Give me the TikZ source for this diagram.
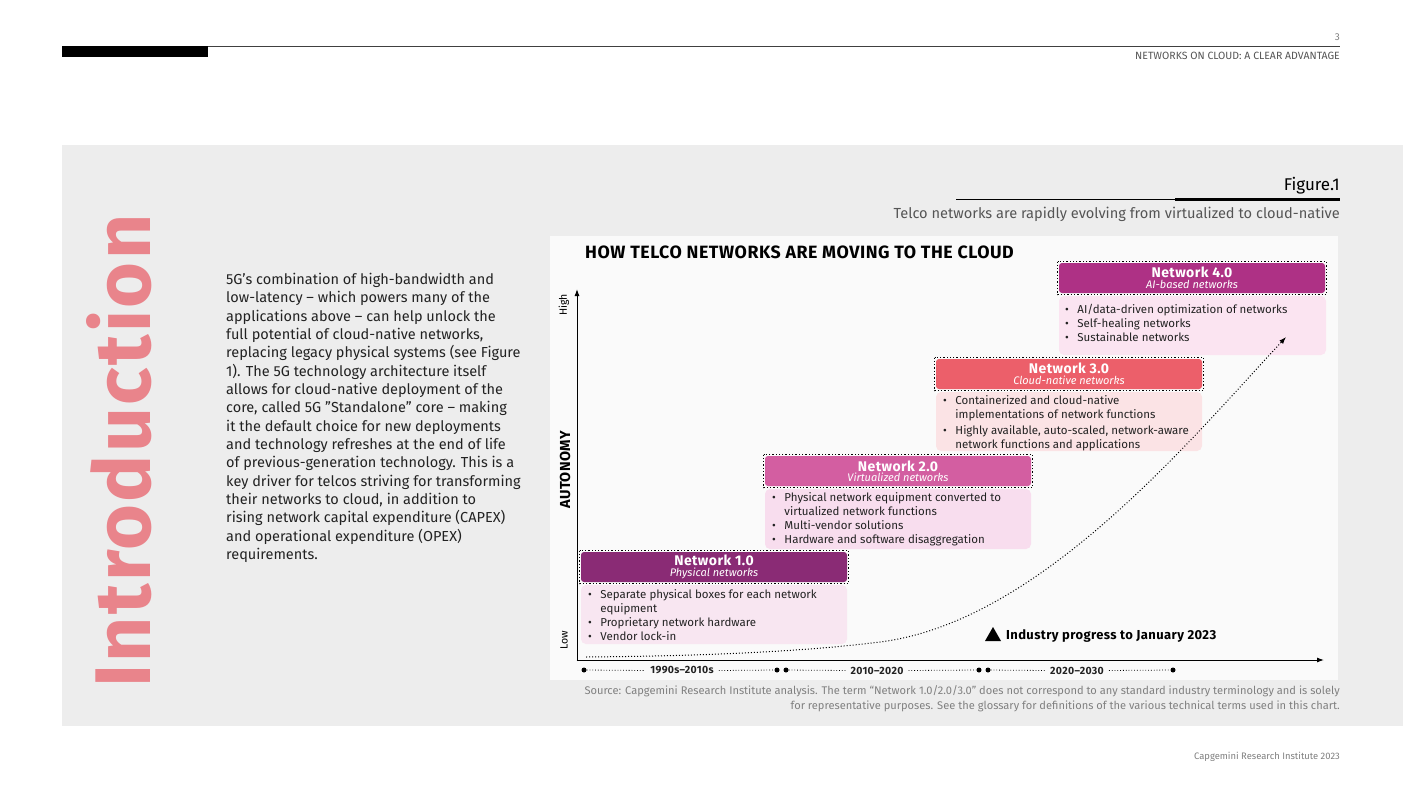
\documentclass[tikz,border=0pt]{standalone}
\usepackage{fontspec}
\setmainfont{Fira Sans}[BoldFeatures={LetterSpace=3}]
\usetikzlibrary{arrows.meta}
\definecolor{panelgray}{HTML}{EDEDED}
\definecolor{chartbg}{HTML}{FAFAFA}
\definecolor{intropink}{HTML}{E9848B}
\definecolor{hOne}{HTML}{8A2B75}
\definecolor{bOne}{HTML}{F8E6F1}
\definecolor{hTwo}{HTML}{D35EA1}
\definecolor{bTwo}{HTML}{F8DDEE}
\definecolor{hThree}{HTML}{EC5F6A}
\definecolor{bThree}{HTML}{FBE3E5}
\definecolor{hFour}{HTML}{AE3185}
\definecolor{bFour}{HTML}{FBE4F1}
\definecolor{txtgray}{HTML}{555555}
\definecolor{lightgray}{HTML}{808080}
\definecolor{bodytext}{HTML}{222222}
\newcommand{\fsz}[2]{\fontsize{#1}{#2}\selectfont}
\tikzset{
  hdrtext/.style={text=white, align=center, inner sep=0pt},
  bodylist/.style={anchor=north west, inner sep=0pt, align=left, text=bodytext, font=\fsz{11.5}{14}},
  hdrbox/.style={rounded corners=3pt},
  dotframe/.style={draw=black, dotted, line width=1.3pt},
  tdot/.style={circle, fill=black, inner sep=0pt, minimum size=5pt},
  tlabel/.style={font=\bfseries\fsz{10.5}{12}, inner sep=0pt, text=bodytext},
  tline/.style={dotted, line width=0.8pt},
  axisarrow/.style={line width=1pt, -{Latex[length=7pt,width=5pt]}},
}
\newcommand{\blist}[1]{\begin{tabular}{@{}l@{\hspace{8.5pt}}l@{}}#1\end{tabular}}
\newcommand{\hdr}[2]{{\bfseries\fsz{14}{14}#1}\\[-1.5pt]{\itshape\fsz{11}{11}#2}}
\begin{document}
\begin{tikzpicture}[x=1pt,y=-1pt]
\useasboundingbox (0,0) rectangle (1403,789);
\fill[white] (0,0) rectangle (1403,789);
% header
\draw[line width=0.8pt, black!75] (62,46) -- (1340,46);
\fill[black] (62,46) rectangle (208,57);
\node[anchor=east, inner sep=0pt, text=lightgray, font=\fsz{10}{12}] (pagenum) at (1340,37) {3};
\node[anchor=east, inner sep=0pt, text=txtgray, font=\fsz{10.5}{12}] (runhead) at (1340,55.5) {NETWORKS ON CLOUD: A CLEAR ADVANTAGE};
% panel
\fill[panelgray] (62,145) rectangle (1403,726);
% Introduction
\node[rotate=90, anchor=base, inner sep=0pt, text=intropink] (intro) at (150.5,451) {\resizebox{473pt}{64pt}{\bfseries Introduction}};
% paragraph
\node[anchor=north west, inner sep=0pt, align=left, text=bodytext, font=\fsz{14.5}{18.33}] (para) at (226,273) {%
5G’s combination of high-bandwidth and\\
low-latency – which powers many of the\\
applications above – can help unlock the\\
full potential of cloud-native networks,\\
replacing legacy physical systems (see Figure\\
1). The 5G technology architecture itself\\
allows for cloud-native deployment of the\\
core, called 5G "Standalone" core – making\\
it the default choice for new deployments\\
and technology refreshes at the end of life\\
of previous-generation technology. This is a\\
key driver for telcos striving for transforming\\
their networks to cloud, in addition to\\
rising network capital expenditure (CAPEX)\\
and operational expenditure (OPEX)\\
requirements.};
% Figure title
\node[anchor=east, inner sep=0pt, text=black, font=\fsz{17}{19}] (figlab) at (1340,186) {Figure.1};
\draw[line width=1pt] (956,199) -- (1340,199);
\fill[black] (1175,197.5) rectangle (1340,200.5);
\node[anchor=east, inner sep=0pt, text=txtgray, font=\fsz{14.6}{16}] (figsub) at (1340,214) {Telco networks are rapidly evolving from virtualized to cloud-native};
% chart panel
\fill[chartbg] (550,236) rectangle (1338,680);
\node[anchor=west, inner sep=0pt, font=\bfseries\fsz{17.8}{20}] (ctitle) at (585,252) {HOW TELCO NETWORKS ARE MOVING TO THE CLOUD};
% axes
\coordinate (ytop) at (577,289);
\coordinate (xend) at (1324,660);
\draw[axisarrow] (577,661) -- (ytop);
\draw[axisarrow] (576.5,660) -- (xend);
\node[rotate=90, inner sep=0pt, font=\fsz{10.5}{12}] (high) at (564,305) {High};
\node[rotate=90, inner sep=0pt, font=\fsz{10.5}{12}] (low) at (564,640) {Low};
\node[rotate=90, inner sep=0pt, font=\bfseries\fsz{14.5}{16}] (autonomy) at (565,470) {AUTONOMY};
% timeline
\node[tdot] (d1) at (584,670) {};
\node[tlabel] (t1) at (682,670.5) {1990s–2010s};
\node[tdot] (d2) at (777,670) {};
\node[tdot] (d3) at (786,670) {};
\node[tlabel] (t2) at (877,670.5) {2010–2020};
\node[tdot] (d4) at (979,670) {};
\node[tdot] (d5) at (988,670) {};
\node[tlabel] (t3) at (1077,670.5) {2020–2030};
\node[tdot] (d6) at (1173,670) {};
\draw[tline] (d1) -- ([xshift=-5pt]t1.west);
\draw[tline] ([xshift=5pt]t1.east) -- (d2);
\draw[tline] (d3) -- ([xshift=-5pt]t2.west);
\draw[tline] ([xshift=5pt]t2.east) -- (d4);
\draw[tline] (d5) -- ([xshift=-5pt]t3.west);
\draw[tline] ([xshift=5pt]t3.east) -- (d6);
% progress legend
\fill[black] (985,641) -- (993,627) -- (1001,641) -- cycle;
\node[anchor=west, inner sep=0pt, font=\bfseries\fsz{13}{15}] (progress) at (1006,636) {Industry progress to January 2023};
% ---- Network 1.0
\draw[dotframe] (579.5,550.5) rectangle (848.5,583.5);
\fill[hOne, hdrbox] (581,552) rectangle (847,582);
\node[hdrtext] (n1) at (714,567) {\hdr{Network 1.0}{Physical networks}};
\fill[bOne, rounded corners=5pt] (581,585) rectangle (847,644);
\node[bodylist] (l1) at (588,588) {\blist{%
\textbullet & Separate physical boxes for each network\\
 & equipment\\
\textbullet & Proprietary network hardware\\
\textbullet & Vendor lock-in}};
% ---- Network 2.0
\draw[dotframe] (763.5,454.5) rectangle (1032.5,487.5);
\fill[hTwo, hdrbox] (765,456) rectangle (1031,486);
\node[hdrtext] (n2) at (898,471) {\hdr{Network 2.0}{Virtualized networks}};
\fill[bTwo, rounded corners=5pt] (765,489) rectangle (1031,549);
\node[bodylist] (l2) at (772,491) {\blist{%
\textbullet & Physical network equipment converted to\\
 & virtualized network functions\\
\textbullet & Multi-vendor solutions\\
\textbullet & Hardware and software disaggregation}};
% ---- Network 3.0
\draw[dotframe] (934.5,357.5) rectangle (1203.5,390.5);
\fill[hThree, hdrbox] (936,359) rectangle (1202,389);
\node[hdrtext] (n3) at (1069,374) {\hdr{Network 3.0}{Cloud-native networks}};
\fill[bThree, rounded corners=5pt] (936,392) rectangle (1202,451);
\node[bodylist] (l3) at (943,394.5) {\blist{%
\textbullet & Containerized and cloud-native\\
 & implementations of network functions\\[2pt]
\textbullet & Highly available, auto-scaled, network-aware\\
 & network functions and applications}};
% ---- Network 4.0
\draw[dotframe] (1057.5,261.5) rectangle (1326.5,294.5);
\fill[hFour, hdrbox] (1059,263) rectangle (1325,293);
\node[hdrtext] (n4) at (1192,278) {\hdr{Network 4.0}{AI-based networks}};
\fill[bFour, rounded corners=5pt] (1059,296) rectangle (1326,355);
\node[bodylist] (l4) at (1065,303) {\blist{%
\textbullet & AI/data-driven optimization of networks\\
\textbullet & Self-healing networks\\
\textbullet & Sustainable networks}};
% progress curve (on top)
\coordinate (cstart) at (586,657);
\coordinate (cmid) at (880,642);
\coordinate (cend) at (1286,337);
\coordinate (tipbase) at (1280.6,342.9);
\draw[dotted, line width=1pt] (cstart) .. controls (700,656) and (800,652) .. (cmid)
  .. controls (1040,622) and (1190,440) .. (tipbase);
\draw[-{Latex[length=7pt,width=5pt]}, line width=1pt] (tipbase) -- (cend);
% source
\node[anchor=north east, inner sep=0pt, align=right, text=lightgray, font=\fsz{11.1}{15}] (source) at (1340,685) {Source: Capgemini Research Institute analysis. The term “Network 1.0/2.0/3.0” does not correspond to any standard industry terminology and is solely\\for representative purposes. See the glossary for definitions of the various technical terms used in this chart.};
% footer
\node[anchor=east, inner sep=0pt, text=lightgray, font=\fsz{9.4}{12}] (footer) at (1340,757) {Capgemini Research Institute 2023};
\end{tikzpicture}
\end{document}
